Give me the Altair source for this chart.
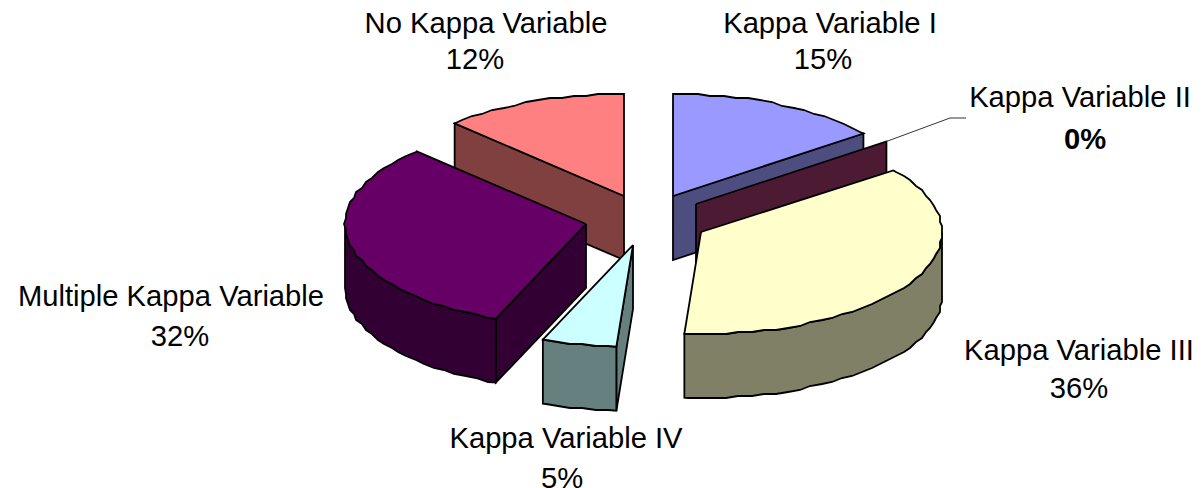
import math
import altair as alt
import pandas as pd

categories = ["Kappa Variable I", "Kappa Variable II", "Kappa Variable III",
              "Kappa Variable IV", "Multiple Kappa Variable", "No Kappa Variable"]
shares = [14.5, 0.2, 36.4, 5.0, 31.5, 12.4]
percent_labels = ["15%", "0%", "36%", "5%", "32%", "12%"]
top_colors = ["#9999ff", "#660033", "#ffffcc", "#ccffff", "#660066", "#ff8080"]
side_colors = ["#4d4d80", "#4d1a33", "#808066", "#668080", "#330033", "#804040"]

# layout of the exploded pie (page pixels)
APEX = [(673, 196), (696, 204), (701, 232), (633, 245), (586, 224), (624, 196)]
RX, RY, DEPTH, GRID, STEP = 241, 102, 64, 2, 3
name_pos = [(830, 24), (1080, 98), (1079, 351), (566, 439), (171, 297), (486, 24)]
pct_pos = [(823, 60), (1085, 140), (1079, 389), (562, 479), (180, 337), (475, 60)]

bounds = [0.0]
for s in shares:
    bounds.append(bounds[-1] + s * 3.6)


def rim_point(i, deg, drop=0):
    cx, cy = APEX[i]
    t = math.radians(deg)
    return (cx + RX * math.sin(t), cy - RY * math.cos(t) + drop)


def rim(i, a, b, drop=0):
    k0 = math.floor(a / STEP) + 1
    k1 = math.ceil(b / STEP) - 1
    pts = [rim_point(i, a, drop)]
    for k in range(k0, k1 + 1):
        x, y = rim_point(i, k * STEP, 0)
        pts.append((round(x / GRID) * GRID, round(y / GRID) * GRID + drop))
    pts.append(rim_point(i, b, drop))
    return pts


def top_face(i):
    return [APEX[i]] + rim(i, bounds[i], bounds[i + 1]) + [APEX[i]]


def radial_wall(i, deg):
    ax, ay = APEX[i]
    p = rim_point(i, deg)
    return [(ax, ay), p, (p[0], p[1] + DEPTH), (ax, ay + DEPTH), (ax, ay)]


def rim_wall(i, a, b):
    up = rim(i, a, b)
    low = rim(i, a, b, DEPTH)
    return up + low[::-1] + [up[0]]


# back-to-front painting order
pieces = [
    (radial_wall(5, bounds[5]), side_colors[5]),
    (top_face(5), top_colors[5]),
    (radial_wall(0, bounds[1]), side_colors[0]),
    (top_face(0), top_colors[0]),
    (radial_wall(1, bounds[1]), side_colors[1]),
    (rim_wall(2, 90, bounds[3]), side_colors[2]),
    (top_face(2), top_colors[2]),
    (radial_wall(3, bounds[3]), side_colors[3]),
    (rim_wall(3, bounds[3], bounds[4]), side_colors[3]),
    (top_face(3), top_colors[3]),
    (radial_wall(4, bounds[4]), side_colors[4]),
    (rim_wall(4, bounds[4], 270), side_colors[4]),
    (top_face(4), top_colors[4]),
]

x_scale = alt.Scale(domain=[8, 1194], range=[0, 1186], nice=False, zero=False)
y_scale = alt.Scale(domain=[8, 488], range=[0, 480], nice=False, zero=False)
X = alt.X("x:Q", scale=x_scale, axis=None)
Y = alt.Y("y:Q", scale=y_scale, axis=None)

layers = []
for pts, color in pieces:
    df = pd.DataFrame({"x": [p[0] for p in pts], "y": [p[1] for p in pts], "i": range(len(pts))})
    layers.append(
        alt.Chart(df)
        .mark_line(fill=color, stroke="black", strokeWidth=1.8, strokeJoin="miter", clip=False, interpolate="linear")
        .encode(x=X, y=Y, order="i:Q")
    )

p2 = rim_point(1, bounds[1])
leader = pd.DataFrame({"x": [p2[0], 950, 966], "y": [p2[1], 118, 118], "i": [0, 1, 2]})
layers.append(
    alt.Chart(leader).mark_line(color="#333333", strokeWidth=1).encode(x=X, y=Y, order="i:Q")
)

text_rows = []
for i, c in enumerate(categories):
    text_rows.append({"x": name_pos[i][0], "y": name_pos[i][1], "t": c, "w": "normal"})
    text_rows.append({"x": pct_pos[i][0], "y": pct_pos[i][1], "t": percent_labels[i],
                      "w": "bold" if percent_labels[i] == "0%" else "normal"})
text_df = pd.DataFrame(text_rows)
for w in ["normal", "bold"]:
    layers.append(
        alt.Chart(text_df[text_df.w == w])
        .mark_text(font="Liberation Sans", fontSize=29.2, fontWeight=w, color="black",
                   align="center", baseline="middle")
        .encode(x=X, y=Y, text="t:N")
    )

chart = (
    alt.layer(*layers)
    .properties(width=1186, height=480, padding={"left": 0, "top": 0, "right": 0, "bottom": 0},
                autosize=alt.AutoSizeParams(type="none"))
    .configure_view(stroke=None)
)
chart.save("out.html", embed_options={"renderer": "svg", "actions": False})
